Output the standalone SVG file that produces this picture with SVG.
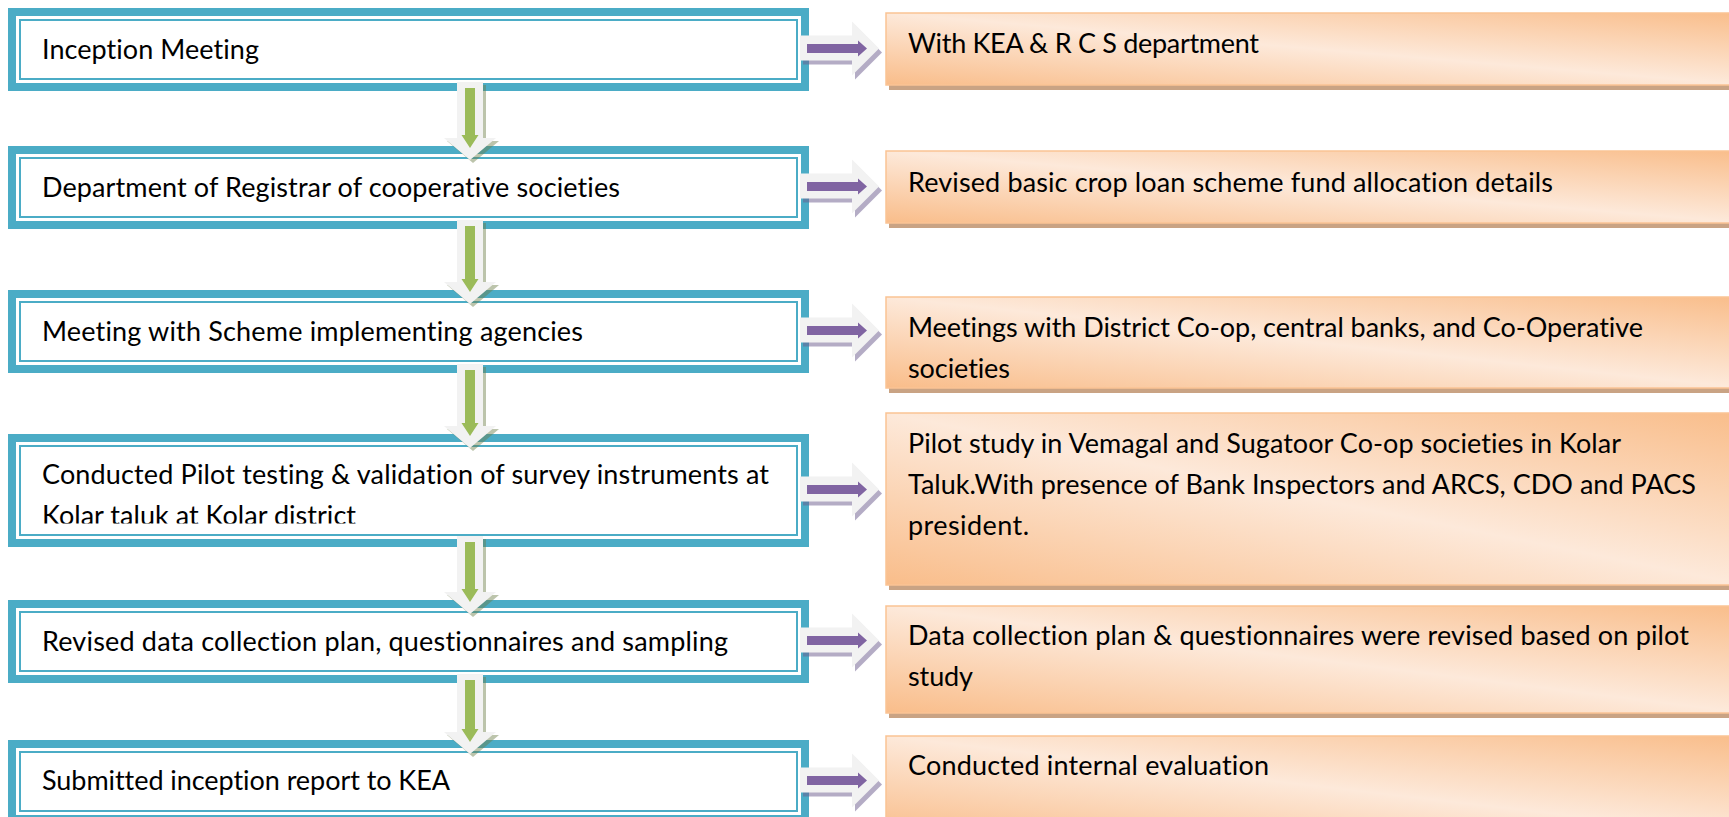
<svg xmlns="http://www.w3.org/2000/svg" xmlns:xlink="http://www.w3.org/1999/xlink" width="1729" height="817" viewBox="0 0 1729 817">
  <defs>
    <style>
      .frame-outer { fill: #ffffff; stroke: #4bacc6; stroke-width: 8; }
      .frame-inner { fill: none; stroke: #4bacc6; stroke-width: 2; }
      .note { fill: url(#peach); stroke: #fac394; stroke-width: 1.5; }
      .note-shadow { fill: #c9a384; }
      .label { font-family: Lato, "Liberation Sans", sans-serif; font-size: 27px; fill: #000000;
               font-variant-ligatures: none; font-feature-settings: "liga" 0, "clig" 0; }
      .arrow-body { fill: #f2f2f2; }
      .shadow-green { fill: #6b7d45; opacity: 0.45; }
      .shadow-purple { fill: #6a5a8c; opacity: 0.5; }
      .arrow-green { fill: #9bbb59; }
      .arrow-purple { fill: #8064a2; }
    </style>
    <linearGradient id="peach" x1="0" y1="1" x2="1" y2="0">
      <stop offset="0" stop-color="#f9bd8a"/>
      <stop offset="0.5" stop-color="#fde9da"/>
      <stop offset="1" stop-color="#f9bd8a"/>
    </linearGradient>
    <!-- side arrow, drawn around its axis at y = 0 -->
    <g id="side-arrow">
      <polygon class="shadow-purple" points="803,-9 855,-9 855,-23 882,4 855,31 855,16 803,16"/>
      <polygon class="arrow-body" points="800,-13 852,-13 852,-27 879,0 852,27 852,12 800,12"/>
      <polygon class="arrow-purple" points="807,-4.5 858,-4.5 858,-8 867,0 858,8 858,4.5 807,4.5"/>
    </g>
    <clipPath id="clip-step4">
      <rect x="20" y="446" width="777" height="77.5"/>
    </clipPath>
  </defs>

  <rect width="1729" height="817" fill="#ffffff"/>

  <!-- process steps (left column) -->
  <g id="step1">
    <rect class="frame-outer" x="12" y="12" width="793" height="75"/>
    <rect class="frame-inner" x="20" y="20" width="777" height="59"/>
    <text class="label" x="42" y="59" textLength="217">Inception Meeting</text>
  </g>
  <g id="step2">
    <rect class="frame-outer" x="12" y="150" width="793" height="75"/>
    <rect class="frame-inner" x="20" y="158" width="777" height="59"/>
    <text class="label" x="42" y="197" textLength="578">Department of Registrar of cooperative societies</text>
  </g>
  <g id="step3">
    <rect class="frame-outer" x="12" y="294" width="793" height="75"/>
    <rect class="frame-inner" x="20" y="302" width="777" height="59"/>
    <text class="label" x="42" y="341" textLength="541">Meeting with Scheme implementing agencies</text>
  </g>
  <g id="step4">
    <rect class="frame-outer" x="12" y="438" width="793" height="105"/>
    <rect class="frame-inner" x="20" y="446" width="777" height="89"/>
    <g clip-path="url(#clip-step4)">
      <text class="label" x="42" y="484" textLength="727">Conducted Pilot testing &amp; validation of survey instruments at</text>
      <text class="label" x="42" y="525" textLength="314">Kolar taluk at Kolar district</text>
    </g>
  </g>
  <g id="step5">
    <rect class="frame-outer" x="12" y="604" width="793" height="75"/>
    <rect class="frame-inner" x="20" y="612" width="777" height="59"/>
    <text class="label" x="42" y="651" textLength="686">Revised data collection plan, questionnaires and sampling</text>
  </g>
  <g id="step6">
    <rect class="frame-outer" x="12" y="744" width="793" height="75"/>
    <rect class="frame-inner" x="20" y="752" width="777" height="59"/>
    <text class="label" x="42" y="790" textLength="408">Submitted inception report to KEA</text>
  </g>

  <!-- outcome notes (right column) -->
  <g id="note1">
    <rect class="note-shadow" x="889" y="18" width="860" height="72"/>
    <rect class="note" x="886" y="13" width="860" height="72"/>
    <text class="label" x="908" y="53" textLength="351">With KEA &amp; R C S department</text>
  </g>
  <g id="note2">
    <rect class="note-shadow" x="889" y="156" width="860" height="72"/>
    <rect class="note" x="886" y="151" width="860" height="72"/>
    <text class="label" x="908" y="192" textLength="645">Revised basic crop loan scheme fund allocation details</text>
  </g>
  <g id="note3">
    <rect class="note-shadow" x="889" y="302" width="860" height="91"/>
    <rect class="note" x="886" y="297" width="860" height="91"/>
    <text class="label" x="908" y="337" textLength="735">Meetings with District Co-op, central banks, and Co-Operative</text>
    <text class="label" x="908" y="378" textLength="102">societies</text>
  </g>
  <g id="note4">
    <rect class="note-shadow" x="889" y="418" width="860" height="172"/>
    <rect class="note" x="886" y="413" width="860" height="172"/>
    <text class="label" x="908" y="453" textLength="713">Pilot study in Vemagal and Sugatoor Co-op societies in Kolar</text>
    <text class="label" x="908" y="494" textLength="788">Taluk.With presence of Bank Inspectors and ARCS, CDO and PACS</text>
    <text class="label" x="908" y="535" textLength="121">president.</text>
  </g>
  <g id="note5">
    <rect class="note-shadow" x="889" y="611" width="860" height="107"/>
    <rect class="note" x="886" y="606" width="860" height="107"/>
    <text class="label" x="908" y="645" textLength="781">Data collection plan &amp; questionnaires were revised based on pilot</text>
    <text class="label" x="908" y="686" textLength="65">study</text>
  </g>
  <g id="note6">
    <rect class="note-shadow" x="889" y="741" width="860" height="100"/>
    <rect class="note" x="886" y="736" width="860" height="100"/>
    <text class="label" x="908" y="775" textLength="361">Conducted internal evaluation</text>
  </g>

  <!-- connectors -->
  <g id="connectors">
    <!-- downward arrows between steps -->
    <g id="down1">
      <polygon class="shadow-green" points="460,85 486,85 486,141 499,141 473,163 447,141 460,141"/>
      <polygon class="arrow-body" points="457,82 483,82 483,138 496,138 470,160 444,138 457,138"/>
      <polygon class="arrow-green" points="465,88 475,88 475,135 478.5,135 470,148 461.5,135 465,135"/>
    </g>
    <g id="down2">
      <polygon class="shadow-green" points="460,223 486,223 486,285 499,285 473,307 447,285 460,285"/>
      <polygon class="arrow-body" points="457,220 483,220 483,282 496,282 470,304 444,282 457,282"/>
      <polygon class="arrow-green" points="465,226 475,226 475,279 478.5,279 470,292 461.5,279 465,279"/>
    </g>
    <g id="down3">
      <polygon class="shadow-green" points="460,367 486,367 486,429 499,429 473,451 447,429 460,429"/>
      <polygon class="arrow-body" points="457,364 483,364 483,426 496,426 470,448 444,426 457,426"/>
      <polygon class="arrow-green" points="465,370 475,370 475,423 478.5,423 470,436 461.5,423 465,423"/>
    </g>
    <g id="down4">
      <polygon class="shadow-green" points="460,539 486,539 486,595 499,595 473,617 447,595 460,595"/>
      <polygon class="arrow-body" points="457,536 483,536 483,592 496,592 470,614 444,592 457,592"/>
      <polygon class="arrow-green" points="465,542 475,542 475,589 478.5,589 470,602 461.5,589 465,589"/>
    </g>
    <g id="down5">
      <polygon class="shadow-green" points="460,677 486,677 486,735 499,735 473,757 447,735 460,735"/>
      <polygon class="arrow-body" points="457,674 483,674 483,732 496,732 470,754 444,732 457,732"/>
      <polygon class="arrow-green" points="465,680 475,680 475,729 478.5,729 470,742 461.5,729 465,729"/>
    </g>
    <!-- side arrows from each step to its note -->
    <use xlink:href="#side-arrow" transform="translate(0,48.5)"/>
    <use xlink:href="#side-arrow" transform="translate(0,186.5)"/>
    <use xlink:href="#side-arrow" transform="translate(0,330.5)"/>
    <use xlink:href="#side-arrow" transform="translate(0,489.5)"/>
    <use xlink:href="#side-arrow" transform="translate(0,640.5)"/>
    <use xlink:href="#side-arrow" transform="translate(0,780.5)"/>
  </g>
</svg>
